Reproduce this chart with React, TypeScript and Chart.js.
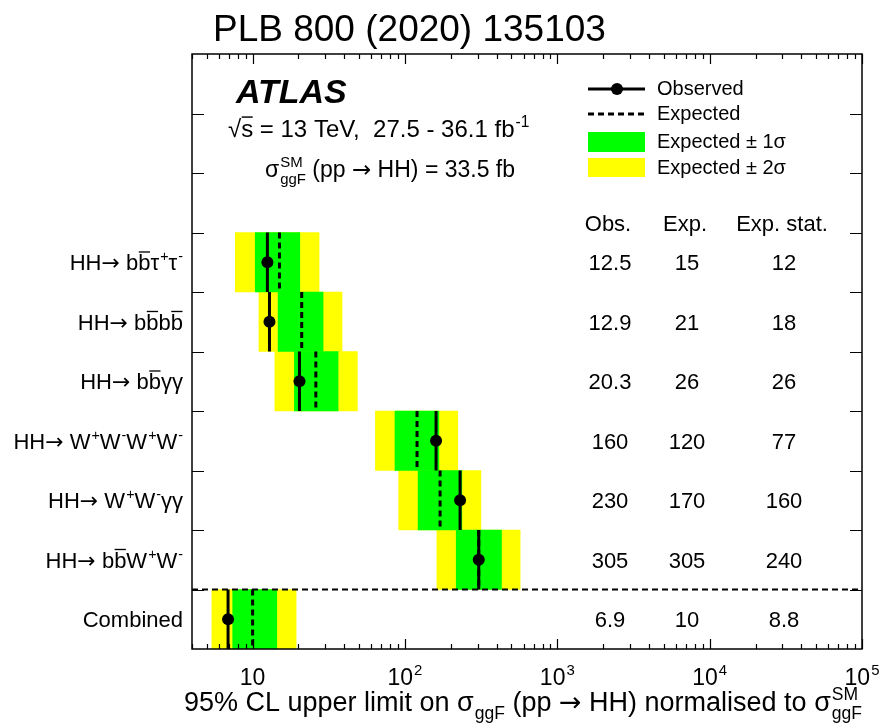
import { useEffect, useRef } from 'react';
import { Chart, registerables } from 'chart.js';

Chart.register(...registerables);

const FONT = "'Liberation Sans', Arial, Helvetica, sans-serif";
const SYMBOL_FONT = "'DejaVu Sans', sans-serif";

// Limits on sigma_ggF(pp -> HH) normalised to the SM prediction
const channels = ['bbtautau', 'bbbb', 'bbyy', 'WWWW', 'WWyy', 'bbWW', 'Combined'];
const observed = [12.5, 12.9, 20.3, 160, 230, 305, 6.9];
const expected = [15, 21, 26, 120, 170, 305, 10];
const expectedStat = [12, 18, 26, 77, 160, 240, 8.8];
const oneSigmaLow = [10.4, 14.7, 18.8, 86, 122, 217, 7.4];
const oneSigmaHigh = [20.4, 29.0, 36.4, 167, 236, 430, 14.4];
const twoSigmaLow = [7.7, 11.0, 14.0, 64, 91, 162, 5.4];
const twoSigmaHigh = [27.3, 38.6, 48.7, 222, 315, 570, 19.3];

// Empty rows kept at the top of the frame for the legend and labels
const legendRows = 3;
const rowIds = ['legend-1', 'legend-2', 'legend-3', ...channels];

const X_MIN = 4;
const X_MAX = 1e5;
const xDecades = [1, 2, 3, 4, 5];

const tableHeaders = ['Obs.', 'Exp.', 'Exp. stat.'];

type Part = { t: string; sup?: string; sub?: string; bar?: boolean; f?: string };

const ARROW: Part = { t: '→', f: SYMBOL_FONT };

const channelLabels: Part[][] = [
  [{ t: 'HH' }, ARROW, { t: ' b' }, { t: 'b', bar: true }, { t: 'τ', sup: '+' }, { t: 'τ', sup: '-' }],
  [{ t: 'HH' }, ARROW, { t: ' b' }, { t: 'b', bar: true }, { t: 'b' }, { t: 'b', bar: true }],
  [{ t: 'HH' }, ARROW, { t: ' b' }, { t: 'b', bar: true }, { t: 'γγ' }],
  [{ t: 'HH' }, ARROW, { t: ' W', sup: '+' }, { t: 'W', sup: '-' }, { t: 'W', sup: '+' }, { t: 'W', sup: '-' }],
  [{ t: 'HH' }, ARROW, { t: ' W', sup: '+' }, { t: 'W', sup: '-' }, { t: 'γγ' }],
  [{ t: 'HH' }, ARROW, { t: ' b' }, { t: 'b', bar: true }, { t: 'W', sup: '+' }, { t: 'W', sup: '-' }],
  [{ t: 'Combined' }],
];

const GREEN = '#00ff00';
const YELLOW = '#ffff00';

const SMALL = 0.65;

function partWidth(ctx: CanvasRenderingContext2D, p: Part, size: number) {
  ctx.font = `${size}px ${p.f ?? FONT}`;
  const bw = ctx.measureText(p.t).width;
  ctx.font = `${size * SMALL}px ${FONT}`;
  const sw = Math.max(
    p.sup ? ctx.measureText(p.sup).width : 0,
    p.sub ? ctx.measureText(p.sub).width : 0,
  );
  return bw + (sw ? sw + 1 : 0);
}

function drawRich(
  ctx: CanvasRenderingContext2D,
  parts: Part[],
  x: number,
  y: number,
  size: number,
  align: 'left' | 'right' | 'center' = 'left',
) {
  const total = parts.reduce((s, p) => s + partWidth(ctx, p, size), 0);
  let cx = align === 'right' ? x - total : align === 'center' ? x - total / 2 : x;
  ctx.textAlign = 'left';
  ctx.textBaseline = 'alphabetic';
  ctx.fillStyle = '#000';
  for (const p of parts) {
    ctx.font = `${size}px ${p.f ?? FONT}`;
    const bw = ctx.measureText(p.t).width;
    ctx.fillText(p.t, cx, y);
    if (p.bar) {
      ctx.fillRect(cx + 0.5, y - size * 0.86, bw - 1, Math.max(1.2, size * 0.06));
    }
    cx += bw;
    if (p.sup || p.sub) {
      ctx.font = `${size * SMALL}px ${FONT}`;
      let sw = 0;
      if (p.sup) {
        ctx.fillText(p.sup, cx + 1, y - size * 0.42);
        sw = Math.max(sw, ctx.measureText(p.sup).width);
      }
      if (p.sub) {
        ctx.fillText(p.sub, cx + 1, y + size * 0.3);
        sw = Math.max(sw, ctx.measureText(p.sub).width);
      }
      cx += sw + 1;
    }
  }
}

const framePlugin = {
  id: 'atlasFrame',
  afterDraw(chart: Chart) {
    const ctx = chart.ctx;
    const { left, right, top, bottom } = chart.chartArea;
    const xs = chart.scales.x;
    const ys = chart.scales.yl;
    ctx.save();

    // Title above the frame
    ctx.fillStyle = '#000';
    ctx.font = `37px ${FONT}`;
    ctx.textAlign = 'left';
    ctx.textBaseline = 'alphabetic';
    ctx.fillText('PLB 800 (2020) 135103', 213, 41);

    // Frame
    ctx.strokeStyle = '#000';
    ctx.lineWidth = 1.5;
    ctx.strokeRect(left, top, right - left, bottom - top);

    // Inward log ticks on bottom and top axes
    ctx.lineWidth = 1.2;
    ctx.beginPath();
    for (let n = 0; n <= 5; n++) {
      for (let k = 1; k <= 9; k++) {
        const v = k * Math.pow(10, n);
        if (v < X_MIN || v > X_MAX) continue;
        const px = Math.round(xs.getPixelForValue(v)) + 0.5;
        const len = k === 1 ? 10 : 5;
        ctx.moveTo(px, bottom);
        ctx.lineTo(px, bottom - len);
        ctx.moveTo(px, top);
        ctx.lineTo(px, top + len);
      }
    }
    // Row boundary ticks on left and right axes
    for (let i = 1; i < rowIds.length; i++) {
      const py = Math.round(ys.getPixelForValue(i)) + 0.5;
      ctx.moveTo(left, py);
      ctx.lineTo(left + 12, py);
      ctx.moveTo(right, py);
      ctx.lineTo(right - 12, py);
    }
    ctx.stroke();

    // X tick labels
    for (const n of xDecades) {
      const px = xs.getPixelForValue(Math.pow(10, n));
      const parts: Part[] = n === 1 ? [{ t: '10' }] : [{ t: '10', sup: String(n) }];
      drawRich(ctx, parts, px, 685, 23, 'center');
    }

    // X axis title
    drawRich(
      ctx,
      [
        { t: '95% CL upper limit on σ', sub: 'ggF' },
        { t: ' (pp ' },
        ARROW,
        { t: ' HH) normalised to σ', sup: 'SM', sub: 'ggF' },
      ],
      right,
      711,
      27,
      'right',
    );

    // Channel labels and table of limits
    const rowY = (j: number) => ys.getPixelForValue(legendRows + j + 0.5) + 8;
    channelLabels.forEach((parts, j) => drawRich(ctx, parts, 183, rowY(j), 22, 'right'));
    const colX = [610, 687, 784];
    ctx.font = `22px ${FONT}`;
    ctx.textAlign = 'center';
    ctx.textBaseline = 'alphabetic';
    tableHeaders.forEach((h, c) => ctx.fillText(h, colX[c] - 2, 231));
    channels.forEach((_, j) => {
      const y = rowY(j);
      ctx.fillText(String(observed[j]), colX[0], y);
      ctx.fillText(String(expected[j]), colX[1], y);
      ctx.fillText(String(expectedStat[j]), colX[2], y);
    });

    // ATLAS label and run conditions
    ctx.font = `italic bold 34px ${FONT}`;
    ctx.textAlign = 'left';
    ctx.fillText('ATLAS', 236, 103);
    drawRich(
      ctx,
      [{ t: '√' }, { t: 's', bar: true }, { t: ' = 13 TeV,  27.5 - 36.1 fb', sup: '-1' }],
      228,
      137,
      24,
    );
    drawRich(
      ctx,
      [{ t: 'σ', sup: 'SM', sub: 'ggF' }, { t: ' (pp ' }, ARROW, { t: ' HH) = 33.5 fb' }],
      265,
      177,
      23,
    );

    // Legend
    ctx.lineWidth = 3;
    ctx.beginPath();
    ctx.moveTo(588, 89);
    ctx.lineTo(645, 89);
    ctx.stroke();
    ctx.beginPath();
    ctx.arc(617, 89, 6, 0, Math.PI * 2);
    ctx.fill();
    ctx.setLineDash([6, 4]);
    ctx.beginPath();
    ctx.moveTo(588, 114);
    ctx.lineTo(645, 114);
    ctx.stroke();
    ctx.setLineDash([]);
    ctx.fillStyle = GREEN;
    ctx.fillRect(588, 132, 57, 20);
    ctx.fillStyle = YELLOW;
    ctx.fillRect(588, 158, 57, 19);
    ctx.fillStyle = '#000';
    ctx.font = `20px ${FONT}`;
    ctx.textBaseline = 'middle';
    ctx.fillText('Observed', 657, 89);
    ctx.fillText('Expected', 657, 114);
    ctx.fillText('Expected ± 1σ', 657, 142);
    ctx.fillText('Expected ± 2σ', 657, 168);

    ctx.restore();
  },
};

export default function App() {
  const ref = useRef<HTMLCanvasElement>(null);

  useEffect(() => {
    const canvas = ref.current;
    if (!canvas) return;

    const rowOf = (j: number) => j + legendRows;
    const band = (lo: number[], hi: number[]) =>
      rowIds.map((_, i) => (i < legendRows ? null : [lo[i - legendRows], hi[i - legendRows]]));
    const segments = (vals: number[]) =>
      vals.flatMap((v, j) => [
        { x: v, y: rowOf(j) },
        { x: v, y: rowOf(j) + 1 },
        { x: v, y: null },
      ]);

    const chart = new Chart(canvas, {
      type: 'bar',
      data: {
        labels: rowIds,
        datasets: [
          {
            type: 'bar',
            label: 'Expected ± 2σ',
            data: band(twoSigmaLow, twoSigmaHigh) as any,
            backgroundColor: YELLOW,
            borderWidth: 0,
            indexAxis: 'y',
            grouped: false,
            barPercentage: 1,
            categoryPercentage: 1,
            xAxisID: 'x',
            yAxisID: 'y',
            order: 5,
          },
          {
            type: 'bar',
            label: 'Expected ± 1σ',
            data: band(oneSigmaLow, oneSigmaHigh) as any,
            backgroundColor: GREEN,
            borderWidth: 0,
            indexAxis: 'y',
            grouped: false,
            barPercentage: 1,
            categoryPercentage: 1,
            xAxisID: 'x',
            yAxisID: 'y',
            order: 4,
          },
          {
            type: 'line',
            label: 'Expected',
            data: segments(expected) as any,
            borderColor: '#000',
            borderWidth: 3,
            borderDash: [6, 4],
            pointRadius: 0,
            spanGaps: false,
            xAxisID: 'x',
            yAxisID: 'yl',
            order: 3,
          },
          {
            type: 'line',
            label: 'separator',
            data: [
              { x: X_MIN, y: rowIds.length - 1 },
              { x: X_MAX, y: rowIds.length - 1 },
            ] as any,
            borderColor: '#000',
            borderWidth: 2,
            borderDash: [6, 4],
            pointRadius: 0,
            xAxisID: 'x',
            yAxisID: 'yl',
            order: 3,
          },
          {
            type: 'line',
            label: 'Observed',
            data: segments(observed) as any,
            borderColor: '#000',
            borderWidth: 3,
            pointRadius: 0,
            spanGaps: false,
            xAxisID: 'x',
            yAxisID: 'yl',
            order: 2,
          },
          {
            type: 'scatter',
            label: 'Observed points',
            data: observed.map((v, j) => ({ x: v, y: rowOf(j) + 0.5 })) as any,
            pointRadius: 6,
            pointBackgroundColor: '#000',
            pointBorderWidth: 0,
            showLine: false,
            xAxisID: 'x',
            yAxisID: 'yl',
            order: 1,
          },
        ],
      },
      options: {
        responsive: false,
        animation: false,
        layout: { padding: { left: 192, right: 19, top: 54, bottom: 79 } },
        scales: {
          x: { type: 'logarithmic', min: X_MIN, max: X_MAX, display: false },
          y: { type: 'category', labels: rowIds, offset: true, display: false },
          yl: { type: 'linear', min: 0, max: rowIds.length, reverse: true, display: false },
        },
        plugins: {
          legend: { display: false },
          tooltip: { enabled: false },
        },
      },
      plugins: [framePlugin],
    });

    return () => chart.destroy();
  }, []);

  return (
    <div style={{ position: 'fixed', left: 0, top: 0, width: 881, height: 728, background: '#fff' }}>
      <canvas ref={ref} width={881} height={728} style={{ display: 'block', width: 881, height: 728 }} />
    </div>
  );
}
